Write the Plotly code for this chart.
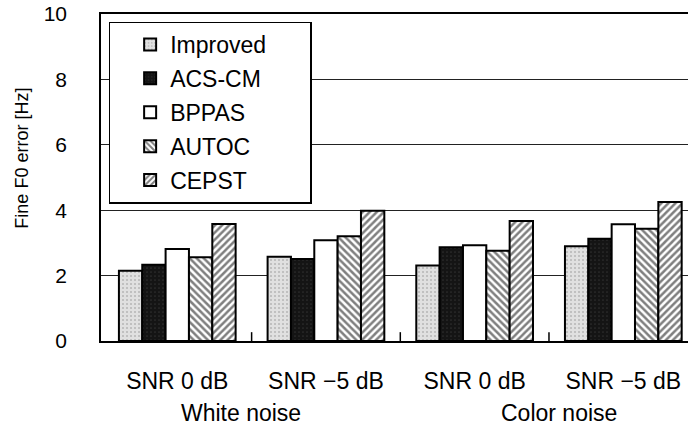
import plotly.graph_objects as go

# Fine F0 error per method under each noise condition
conditions = ["SNR 0 dB", "SNR \u22125 dB", "SNR 0 dB", "SNR \u22125 dB"]
noise_types = ["White noise", "Color noise"]
y_ticks = [0, 2, 4, 6, 8, 10]

improved = [2.15, 2.58, 2.31, 2.90]
acs_cm = [2.33, 2.51, 2.87, 3.13]
bppas = [2.81, 3.08, 2.93, 3.57]
autoc = [2.56, 3.20, 2.76, 3.43]
cepst = [3.58, 3.98, 3.67, 4.25]

methods = ["Improved", "ACS-CM", "BPPAS", "AUTOC", "CEPST"]
series = [improved, acs_cm, bppas, autoc, cepst]

FONT = "Liberation Sans, Arial, sans-serif"
PAD = "\u00a0" * 6  # widens the legend box to the right of the labels

styles = {
    "Improved": dict(color="#dddddd", pattern=dict(shape=".", fgcolor="#8a8a8a", bgcolor="#e0e0e0", size=4, solidity=0.2)),
    "ACS-CM": dict(color="#111111", pattern=dict(shape=".", fgcolor="#4a4a4a", bgcolor="#141414", size=4, solidity=0.15)),
    "BPPAS": dict(color="white"),
    "AUTOC": dict(color="white", pattern=dict(shape="\\", fgcolor="black", bgcolor="white", size=5, solidity=0.5)),
    "CEPST": dict(color="white", pattern=dict(shape="/", fgcolor="black", bgcolor="white", size=5, solidity=0.5)),
}

x_pos = list(range(len(conditions)))

fig = go.Figure()
for name, vals in zip(methods, series):
    st = styles[name]
    marker = dict(color=st["color"], line=dict(color="black", width=2))
    if "pattern" in st:
        marker["pattern"] = st["pattern"]
    fig.add_trace(go.Bar(name=name + PAD, legendgroup=name, x=x_pos, y=vals, marker=marker))

# short inside ticks on the boundaries between conditions
tick_x, tick_y = [], []
for i in x_pos[:-1]:
    tick_x += [i + 0.5, i + 0.5, None]
    tick_y += [0, 0.27, None]
fig.add_trace(go.Scatter(
    x=tick_x, y=tick_y, mode="lines", line=dict(color="black", width=1.5),
    showlegend=False, hoverinfo="skip",
))

# noise-type captions under each pair of conditions
for label, xc in zip(noise_types, [0.43, 2.57]):
    fig.add_annotation(
        x=xc, y=-0.22, xref="x", yref="paper", text=label, showarrow=False,
        font=dict(family=FONT, size=23, color="black"), xanchor="center", yanchor="middle",
    )

# y-axis title
fig.add_annotation(
    x=-0.135, y=0.56, xref="paper", yref="paper", text="Fine F0 error [Hz]", showarrow=False,
    textangle=-90, font=dict(family=FONT, size=18, color="black"),
    xanchor="center", yanchor="middle",
)

fig.update_layout(
    width=688, height=429,
    margin=dict(l=101, r=0, t=14, b=88),
    paper_bgcolor="white", plot_bgcolor="white",
    barmode="group", bargap=0.215, bargroupgap=0,
    font=dict(family=FONT, size=21, color="black"),
    legend=dict(
        x=0.013, y=0.977, xanchor="left", yanchor="top",
        bgcolor="white", bordercolor="black", borderwidth=1.5,
        font=dict(family=FONT, size=23, color="black"),
        tracegroupgap=1, itemwidth=30, indentation=20,
    ),
    showlegend=True,
)

fig.update_xaxes(
    range=[-0.513, 3.435],
    tickmode="array", tickvals=x_pos, ticktext=conditions,
    ticks="", ticklabelstandoff=18,
    tickfont=dict(family=FONT, size=23, color="black"),
    showline=True, linecolor="black", linewidth=2, mirror=True,
    showgrid=False, zeroline=False,
)

fig.update_yaxes(
    range=[0, 10], tickmode="array", tickvals=y_ticks,
    ticks="", ticklabelstandoff=28,
    tickfont=dict(family=FONT, size=21, color="black"),
    showline=True, linecolor="black", linewidth=1.5, mirror=False,
    showgrid=True, gridcolor="#222222", gridwidth=1.2, zeroline=False,
)

fig.write_html("out.html")
